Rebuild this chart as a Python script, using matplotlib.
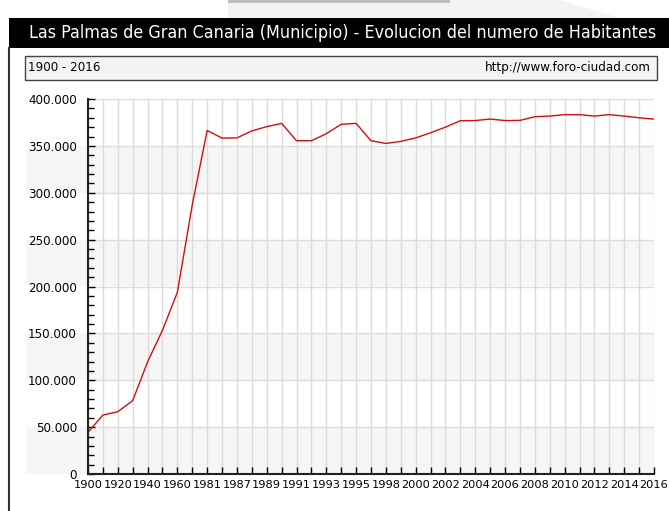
import matplotlib
matplotlib.use("Agg")
import matplotlib.pyplot as plt
from matplotlib.patches import Rectangle, Polygon
from matplotlib.ticker import FuncFormatter, MultipleLocator
import matplotlib.transforms as mtrans

years = ["1900", "1910", "1920", "1930", "1940", "1950", "1960", "1970", "1981",
         "1986", "1987", "1988", "1989", "1990", "1991", "1992", "1993", "1994",
         "1995", "1996", "1998", "1999", "2000", "2001", "2002", "2003", "2004",
         "2005", "2006", "2007", "2008", "2009", "2010", "2011", "2012", "2013",
         "2014", "2015", "2016"]
population = [44517, 62886, 66461, 78264, 119595, 153262, 193862, 287038, 366454,
              358272, 358500, 366000, 370500, 374000, 355500, 355500, 363000, 373000,
              374000, 355500, 352600, 354800, 358500, 364000, 370000, 376800, 377000,
              378600, 377000, 377200, 381100, 381800, 383300, 383300, 381800, 383300,
              381800, 380000, 378500]

title = "Las Palmas de Gran Canaria (Municipio) - Evolucion del numero de Habitantes"
subtitle_left = "1900 - 2016"
subtitle_right = "http://www.foro-ciudad.com"
y_ticks = [0, 50000, 100000, 150000, 200000, 250000, 300000, 350000, 400000]

W, H = 669, 511
fig = plt.figure(figsize=(W / 100, H / 100), dpi=100)
fig.patch.set_facecolor("white")

def fx(px):
    return px / W

def fy(py):
    return 1 - py / H

# faint page artifact at the very top
fig.add_artist(Polygon([(fx(228), fy(0)), (fx(560), fy(0)), (fx(620), fy(18)), (fx(228), fy(18))],
                       closed=True, facecolor="#f3f3f3", edgecolor="none"))
fig.add_artist(Rectangle((fx(228), fy(3)), fx(450) - fx(228), fy(0) - fy(3),
                         facecolor="#bcbcbc", edgecolor="none"))
# outer left border
fig.add_artist(plt.Line2D([fx(9), fx(9)], [fy(48), fy(511)], color="#333333", lw=1.5))
# title bar
fig.add_artist(Rectangle((fx(9), fy(48)), fx(669) - fx(9), fy(18) - fy(48),
                         facecolor="black", edgecolor="none"))
fig.text(fx(29), fy(33), title, color="white", fontsize=12.8, va="center", ha="left",
         family="DejaVu Sans", fontstretch="condensed")
# subtitle box
fig.add_artist(Rectangle((fx(25), fy(80)), fx(657) - fx(25), fy(56) - fy(80),
                         facecolor="#f4f4f4", edgecolor="#444444", lw=1))
fig.text(fx(28), fy(67.5), subtitle_left, fontsize=8.6, va="center", ha="left", color="black")
fig.text(fx(651), fy(67.5), subtitle_right, fontsize=8.6, va="center", ha="right", color="black")

ax = fig.add_axes([fx(88), fy(474), fx(654) - fx(88), fy(99) - fy(474)])
ax.set_facecolor("white")
x = list(range(len(years)))

# alternating horizontal bands (extend into label area)
blend = mtrans.blended_transform_factory(ax.transAxes, ax.transData)
for i in range(0, 8, 2):
    lo = y_ticks[i]
    ax.add_patch(Rectangle((-0.11, lo), 1.11, 50000, transform=blend,
                           facecolor="#f6f6f6", edgecolor="none", clip_on=False, zorder=0))

ax.set_xlim(0, len(years) - 1)
ax.set_ylim(0, 400000)
for xi in x:
    ax.axvline(xi, color="#dcdcdc", lw=1, zorder=1)
for yt in y_ticks[1:]:
    ax.axhline(yt, color="#dcdcdc", lw=1, zorder=1)

ax.plot(x, population, color="#d01010", lw=1.0, zorder=3)

ax.set_xticks(x)
ax.set_xticklabels([y if i % 2 == 0 else "" for i, y in enumerate(years)], fontsize=8.2)
ax.set_yticks(y_ticks)
ax.yaxis.set_major_formatter(FuncFormatter(lambda v, p: f"{int(v):,}".replace(",", ".")))
ax.yaxis.set_minor_locator(MultipleLocator(10000))
ax.tick_params(axis="y", which="major", direction="in", length=5, width=1, pad=8, labelsize=8.6)
ax.tick_params(axis="y", which="minor", direction="in", length=4, width=1)
ax.tick_params(axis="x", which="major", direction="in", length=5, width=1, pad=4)

for s in ["top", "right"]:
    ax.spines[s].set_visible(False)
for s in ["left", "bottom"]:
    ax.spines[s].set_color("#222222")
    ax.spines[s].set_linewidth(1.5)
    ax.spines[s].set_zorder(4)

fig.savefig("out.png", dpi=100)
